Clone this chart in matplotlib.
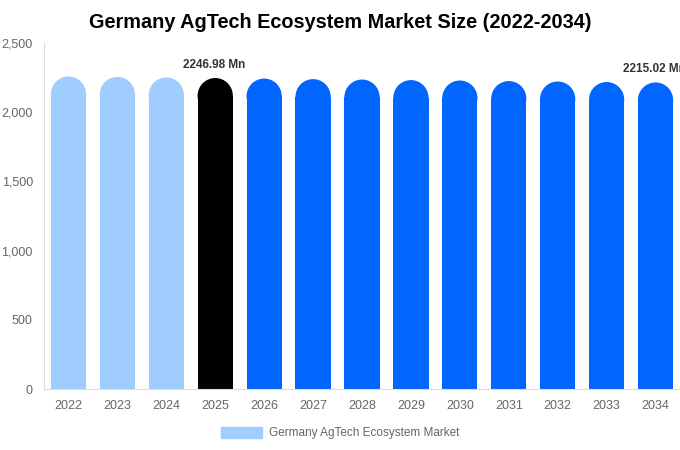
import numpy as np
import matplotlib
matplotlib.use("Agg")
import matplotlib.pyplot as plt
from matplotlib.patches import Ellipse, Patch

plt.rcParams['font.family'] = ['Liberation Sans', 'DejaVu Sans']

# datos
years = ['2022', '2023', '2024', '2025', '2026', '2027', '2028',
         '2029', '2030', '2031', '2032', '2033', '2034']
values = [2258, 2255, 2251, 2246.98, 2243, 2239, 2236,
          2232, 2229, 2225, 2222, 2218, 2215.02]
colors = ['#A0CDFF'] * 3 + ['#000000'] + ['#0066FF'] * 9
labels = {3: '2246.98 Mn', 12: '2215.02 Mn'}
legend_name = 'Germany AgTech Ecosystem Market'

W, H = 680, 450
fig = plt.figure(figsize=(W / 100, H / 100), dpi=100)
ax = fig.add_axes([44 / W, (H - 389) / H, (W - 44) / W, (389 - 43) / H])

ymax = 2500
bw = 0.72
ax.set_xlim(-0.5, len(years) - 0.5)
ax.set_ylim(0, ymax)

# radio del tope redondeado en unidades de datos
px_per_x = (W - 44) / len(years)
px_per_y = (389 - 43) / ymax
r_px = bw * px_per_x / 2
r_y = r_px / px_per_y

x = np.arange(len(years))
for i, (v, c) in enumerate(zip(values, colors)):
    ax.bar(i, v - r_y, width=bw, color=c, linewidth=0)
    ax.add_patch(Ellipse((i, v - r_y), bw, 2 * r_y, color=c, linewidth=0))

for i, txt in labels.items():
    ax.annotate(txt, (i, values[i]), xytext=(-1, 5), textcoords='offset points',
                ha='center', va='bottom', fontsize=8.5, fontweight='bold',
                color='#333333', annotation_clip=False)

ax.set_xticks(x)
ax.set_xticklabels(years)
ax.set_yticks([0, 500, 1000, 1500, 2000, 2500])
ax.set_yticklabels(['0', '500', '1,000', '1,500', '2,000', '2,500'])
ax.tick_params(length=0, colors='#666666', labelsize=9)
ax.tick_params(axis='x', pad=8)
ax.tick_params(axis='y', pad=8)
for s in ['top', 'right']:
    ax.spines[s].set_visible(False)
for s in ['left', 'bottom']:
    ax.spines[s].set_color('#dddddd')

fig.text(340 / W, 1 - 22 / H, 'Germany AgTech Ecosystem Market Size (2022-2034)',
         ha='center', va='center', fontsize=14.3, fontweight='bold')

fig.legend(handles=[Patch(color='#A0CDFF', label=legend_name)],
           loc='center', bbox_to_anchor=(340 / W, 1 - 433 / H), frameon=False,
           fontsize=8.5, labelcolor='#666666', handlelength=3.5, handleheight=1.06,
           handletextpad=0.55)

fig.savefig('out.png', dpi=100)
